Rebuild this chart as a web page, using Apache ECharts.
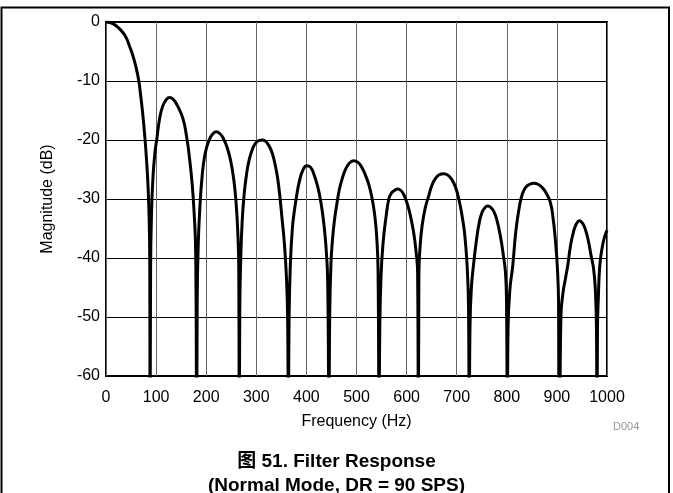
<!DOCTYPE html>
<html>
<head>
  <meta charset="utf-8" />
  <title>Filter Response</title>
  <script src="https://cdn.jsdelivr.net/npm/echarts@6/dist/echarts.min.js"></script>
  <style>
    html, body { margin: 0; padding: 0; background: #fff; }
  </style>
</head>
<body>
<div id="main" style="width: 673px;height:493px;"></div>
<script type="text/javascript">
  // frequency (Hz) and magnitude (dB), lobe by lobe
  var freqHz = [
    0, 8, 16, 24, 32, 40, 47, 54, 60, 65.5, 69, 72, 75, 78, 81, 84, 86, 87.3, 88,
    89, 91, 94, 97.5, 101.5, 106.8, 113, 120, 126.7, 134, 142, 153.3, 161, 167, 172, 176, 179, 181,
    182, 184, 188, 192, 196, 201, 207, 213, 220, 227, 234, 242, 249, 255, 259.5, 263, 265, 266,
    267, 269, 272, 276, 281, 286, 292, 298, 305, 311.8, 318, 324, 330, 335, 340, 345, 351.7, 356, 360, 362.5, 364,
    365.5, 368, 372, 376, 381, 386, 393, 400.8, 408, 415, 422.8, 429, 434, 439, 442.5, 445,
    446.5, 449, 452.5, 456, 461.4, 466, 471, 477, 485, 494, 503, 511, 518, 525, 531.3, 536, 540, 543, 545,
    546.5, 549, 553, 559, 564.5, 569, 575, 582.4, 589, 594, 598, 604, 610, 615, 619, 622, 623.5,
    624.5, 627, 631, 637, 644.3, 650, 657, 665, 674.3, 683, 691, 698, 704.2, 710, 716, 721, 723.5, 725,
    726.5, 729, 733.5, 740, 745, 750, 756, 762, 768, 774, 780, 787.4, 793, 797.4, 799.5, 801,
    802.5, 806, 812, 818, 825.3, 831, 838, 846, 854, 862, 870, 878, 886.6, 892, 897, 901, 903.5, 905.5,
    908, 912, 917, 921.8, 927, 933, 939, 945, 951, 957, 963, 968, 973, 976.5, 979, 980,
    981, 983, 985, 988, 992, 996, 1000
  ];
  var magDb = [
    0, -0.1, -0.4, -0.9, -1.6, -2.6, -4.1, -5.8, -7.7, -10, -12.3, -14.5, -17, -20, -23.5, -28, -33, -40, -70,
    -42, -32, -26, -22.3, -19.8, -16.5, -14.3, -13.2, -12.8, -13.1, -14.1, -16.3, -19.5, -23.3, -27.5, -32.5, -39, -70,
    -48, -38, -30.5, -26, -23.2, -21.2, -19.8, -19, -18.6, -18.9, -19.7, -21.3, -23.6, -26.7, -30.5, -35.5, -42, -70,
    -49, -40, -33.5, -29, -25.5, -23.3, -21.6, -20.6, -20.1, -20, -20.2, -20.8, -21.8, -23.2, -25.2, -28, -33.6, -37.5, -43, -50, -70,
    -50, -41, -35, -32, -29.2, -27, -25.1, -24.35, -24.6, -25.8, -28, -30.6, -33.6, -38, -44, -70,
    -50, -41, -36.5, -33.6, -30.5, -28.3, -26.7, -25.2, -24, -23.5, -23.8, -24.7, -26, -27.7, -30, -32.5, -36, -42, -70,
    -52, -43, -37.5, -33, -30, -29.1, -28.6, -28.3, -28.6, -29.2, -30, -31.6, -33.8, -36.2, -39, -42.5, -70,
    -43, -38, -34.5, -31.6, -29.4, -27.8, -26.6, -25.9, -25.7, -26, -26.8, -28.1, -30, -32.5, -36, -41.7, -48, -70,
    -52, -45.5, -41.2, -36.6, -34, -32.4, -31.5, -31.2, -31.4, -32.1, -33.5, -36.4, -39.5, -42.5, -48, -70,
    -52, -45.5, -41.2, -35.5, -31.2, -29.2, -28, -27.5, -27.35, -27.5, -28, -28.9, -30.5, -33, -37, -41.7, -48, -70,
    -50, -46, -43.5, -41.2, -38, -35.6, -34.2, -33.7, -34.1, -35.2, -37.2, -39.5, -41.7, -45, -52, -70,
    -52, -46, -42, -39.5, -37.5, -36.2, -35.3
  ];
  var xTicks = [0, 100, 200, 300, 400, 500, 600, 700, 800, 900, 1000];
  var yTicks = [-60, -50, -40, -30, -20, -10, 0];

  var points = [];
  for (var i = 0; i < freqHz.length; i++) {
    points.push([freqHz[i], magDb[i]]);
  }

  var font = '"Liberation Sans", Arial, "Noto Sans CJK SC", sans-serif';
  var myChart = echarts.init(document.getElementById('main'));
  var option = {
    animation: false,
    backgroundColor: '#fff',
    textStyle: { fontFamily: font },
    title: {
      text: '图 51. Filter Response\n(Normal Mode, DR = 90 SPS)',
      left: 'center',
      top: 445,
      textStyle: {
        fontFamily: font,
        fontSize: 19,
        fontWeight: 'bold',
        color: '#000',
        lineHeight: 24
      }
    },
    grid: {
      left: 106,
      right: 66,
      top: 22,
      bottom: 117,
      show: true,
      borderColor: '#000',
      borderWidth: 2,
      containLabel: false
    },
    xAxis: {
      type: 'value',
      min: xTicks[0],
      max: xTicks[xTicks.length - 1],
      interval: 100,
      name: 'Frequency (Hz)',
      nameLocation: 'middle',
      nameGap: 38,
      nameTextStyle: { fontFamily: font, fontSize: 16, color: '#000' },
      axisLine: { show: false },
      axisTick: { show: false },
      axisLabel: {
        fontFamily: font, fontSize: 16, color: '#000', margin: 14,
        formatter: function (v) { return String(v); }
      },
      splitLine: { show: true, lineStyle: { color: '#666', width: 1 } }
    },
    yAxis: {
      type: 'value',
      min: yTicks[0],
      max: yTicks[yTicks.length - 1],
      interval: 10,
      name: 'Magnitude (dB)',
      nameLocation: 'middle',
      nameGap: 50,
      nameTextStyle: { fontFamily: font, fontSize: 16, color: '#000' },
      axisLine: { show: false },
      axisTick: { show: false },
      axisLabel: { fontFamily: font, fontSize: 16, color: '#000', margin: 6 },
      splitLine: { show: true, lineStyle: { color: '#000', width: 1 } }
    },
    graphic: [
      {
        type: 'polyline',
        shape: { points: [[1.5, 493], [1.5, 7.5], [669, 7.5], [669, 493]] },
        style: { stroke: '#000', lineWidth: 2, fill: null },
        silent: true
      },
      {
        type: 'text',
        left: 613,
        top: 421,
        style: { text: 'D004', fill: '#999', font: '11px ' + font }
      }
    ],
    series: [
      {
        type: 'line',
        data: points,
        showSymbol: false,
        smooth: 0.5,
        clip: true,
        lineStyle: { color: '#000', width: 3 }
      }
    ]
  };

  option && myChart.setOption(option);
</script>
</body>
</html>
